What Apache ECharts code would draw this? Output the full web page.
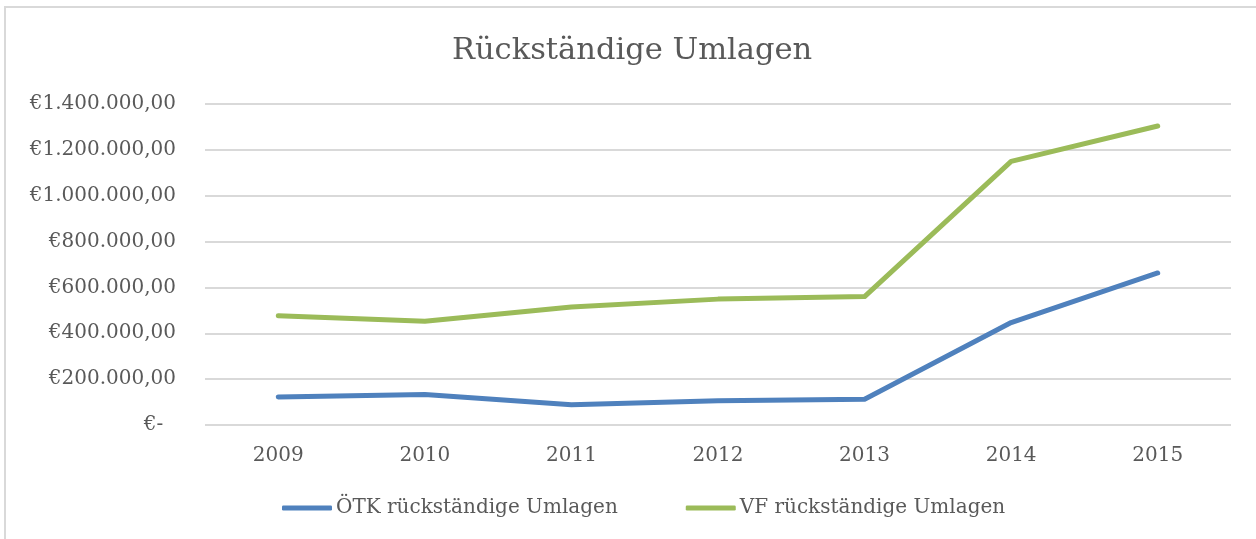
<!DOCTYPE html>
<html>
    <head>
        <meta charset="utf-8"/>
        <script src="https://cdn.jsdelivr.net/npm/echarts@6/dist/echarts.min.js"></script>
        <style>
            html, body { margin: 0; padding: 0; background: #fff; }
        </style>
    </head>
    <body>
        <div id="main" style="width: 1256px;height: 539px;"></div>
        <script>
            // Daten
            var jahre = ['2009', '2010', '2011', '2012', '2013', '2014', '2015'];
            var oetk = [122000, 133000, 88000, 106000, 112000, 447000, 663000];
            var vf = [477000, 452000, 515000, 549000, 560000, 1150000, 1304000];
            var namen = ['ÖTK rückständige Umlagen', 'VF rückständige Umlagen'];

            var schrift = 'DejaVu Serif';
            var grau = '#595959';

            function euro(v) {
                if (v === 0) return '€-\u00a0\u00a0';
                var s = String(Math.round(v)).replace(/\B(?=(\d{3})+(?!\d))/g, '.');
                return '€' + s + ',00';
            }

            var myChart = echarts.init(document.getElementById('main'));
            myChart.setOption({
              animation: false,
              title: {
                text: 'Rückständige Umlagen',
                left: 447,
                top: 31,
                textStyle: { fontFamily: schrift, fontSize: 30.5, fontWeight: 'normal', color: grau }
              },
              graphic: [{
                type: 'rect',
                shape: { x: 5, y: 7, width: 1260, height: 540 },
                style: { fill: null, stroke: '#d9d9d9', lineWidth: 2 },
                silent: true
              }],
              legend: {
                data: namen,
                bottom: 16,
                left: 277,
                icon: 'roundRect',
                itemWidth: 50,
                itemHeight: 5,
                itemGap: 68,
                textStyle: { fontFamily: schrift, fontSize: 20, color: grau, padding: [0, 0, 0, -1] }
              },
              grid: { left: 205, right: 25, top: 104, bottom: 114 },
              xAxis: {
                type: 'category',
                data: jahre,
                boundaryGap: true,
                axisLine: { show: false },
                axisTick: { show: false },
                axisLabel: { fontFamily: schrift, fontSize: 20, color: grau, margin: 21 }
              },
              yAxis: {
                type: 'value',
                min: 0,
                max: 1400000,
                interval: 200000,
                axisLabel: { fontFamily: schrift, fontSize: 20, color: grau, margin: 29, formatter: euro },
                splitLine: { lineStyle: { color: '#d9d9d9', width: 2 } }
              },
              series: [
                {
                  name: namen[0],
                  type: 'line',
                  data: oetk,
                  showSymbol: false,
                  itemStyle: { color: '#4f81bd' },
                  lineStyle: { color: '#4f81bd', width: 5, cap: 'round', join: 'round' }
                },
                {
                  name: namen[1],
                  type: 'line',
                  data: vf,
                  showSymbol: false,
                  itemStyle: { color: '#9bbb59' },
                  lineStyle: { color: '#9bbb59', width: 5, cap: 'round', join: 'round' }
                }
              ]
            });
        </script>
  </body>
</html>
